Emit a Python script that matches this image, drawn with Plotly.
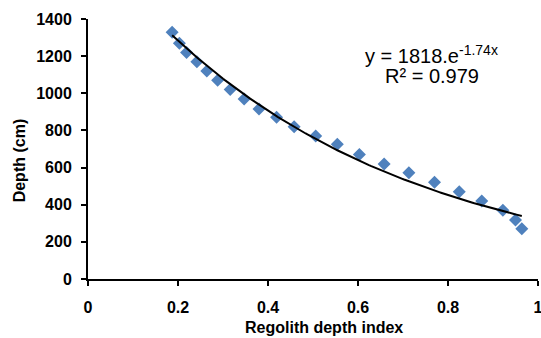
import numpy as np
import plotly.graph_objects as go

# Data
regolith_index = [0.187, 0.203, 0.219, 0.242, 0.264, 0.288, 0.316, 0.347, 0.380, 0.419,
                  0.458, 0.506, 0.554, 0.603, 0.658, 0.713, 0.770, 0.825, 0.875, 0.922,
                  0.950, 0.964]
depth_cm = [1328, 1269, 1219, 1170, 1120, 1070, 1021, 969, 915, 871,
            820, 770, 725, 671, 619, 572, 521, 470, 420, 370,
            318, 271]

# Fitted exponential trendline shown on the chart: y = a * exp(b x)
fit_a = 1818.0
fit_b = -1.74
r_squared = 0.979

x_ticks = [0, 0.2, 0.4, 0.6, 0.8, 1]
y_ticks = [0, 200, 400, 600, 800, 1000, 1200, 1400]

xf = np.linspace(min(regolith_index), max(regolith_index), 200)
yf = fit_a * np.exp(fit_b * xf)

fig = go.Figure()
fig.add_trace(go.Scatter(
    x=regolith_index, y=depth_cm, mode="markers",
    marker=dict(symbol="diamond", size=10, color="#4F81BD"),
    showlegend=False, hoverinfo="skip", cliponaxis=False))
fig.add_trace(go.Scatter(
    x=xf, y=yf, mode="lines",
    line=dict(color="black", width=2),
    showlegend=False, hoverinfo="skip"))

font_family = "Liberation Sans, Arial, sans-serif"
fig.add_annotation(x=0.764, y=1210, xref="x", yref="y",
                   text="y = 1818.e<sup>-1.74x</sup>", showarrow=False,
                   font=dict(family=font_family, size=20, color="black"),
                   xanchor="center", yanchor="middle")
fig.add_annotation(x=0.764, y=1094, xref="x", yref="y",
                   text="R² = %.3f" % r_squared, showarrow=False,
                   font=dict(family=font_family, size=20, color="black"),
                   xanchor="center", yanchor="middle")

# Axis titles
fig.add_annotation(x=0.524, y=-0.188, xref="paper", yref="paper",
                   text="<b>Regolith depth index</b>", showarrow=False,
                   font=dict(family=font_family, size=16, color="black"),
                   xanchor="center", yanchor="middle")
fig.add_annotation(x=-0.153, y=0.457, xref="paper", yref="paper",
                   text="<b>Depth (cm)</b>", showarrow=False, textangle=-90,
                   font=dict(family=font_family, size=16, color="black"),
                   xanchor="center", yanchor="middle")

axis_common = dict(
    showgrid=False, zeroline=False, showline=True, linecolor="black", linewidth=2,
    ticks="outside", ticklen=5, tickwidth=2, tickcolor="black",
    tickfont=dict(family=font_family, size=16, color="black", weight="bold"),
    ticklabeloverflow="allow",
)
fig.update_xaxes(range=[0, 1], tickvals=x_ticks, ticktext=[str(v) for v in x_ticks],
                 ticklabelstandoff=8, **axis_common)
fig.update_yaxes(range=[0, 1400], tickvals=y_ticks, ticklabelstandoff=6, **axis_common)

fig.update_layout(
    width=541, height=338,
    margin=dict(l=88, r=3, t=19, b=59, autoexpand=False),
    plot_bgcolor="white", paper_bgcolor="white",
    font=dict(family=font_family),
)
fig.write_html("out.html", config={"displayModeBar": False})

# Remove the default page margin so the figure sits at the window's top-left corner
with open("out.html", "r", encoding="utf-8") as f:
    html = f.read()
html = html.replace("<head>", "<head><style>html,body{margin:0;padding:0;overflow:hidden;}</style>", 1)
with open("out.html", "w", encoding="utf-8") as f:
    f.write(html)
